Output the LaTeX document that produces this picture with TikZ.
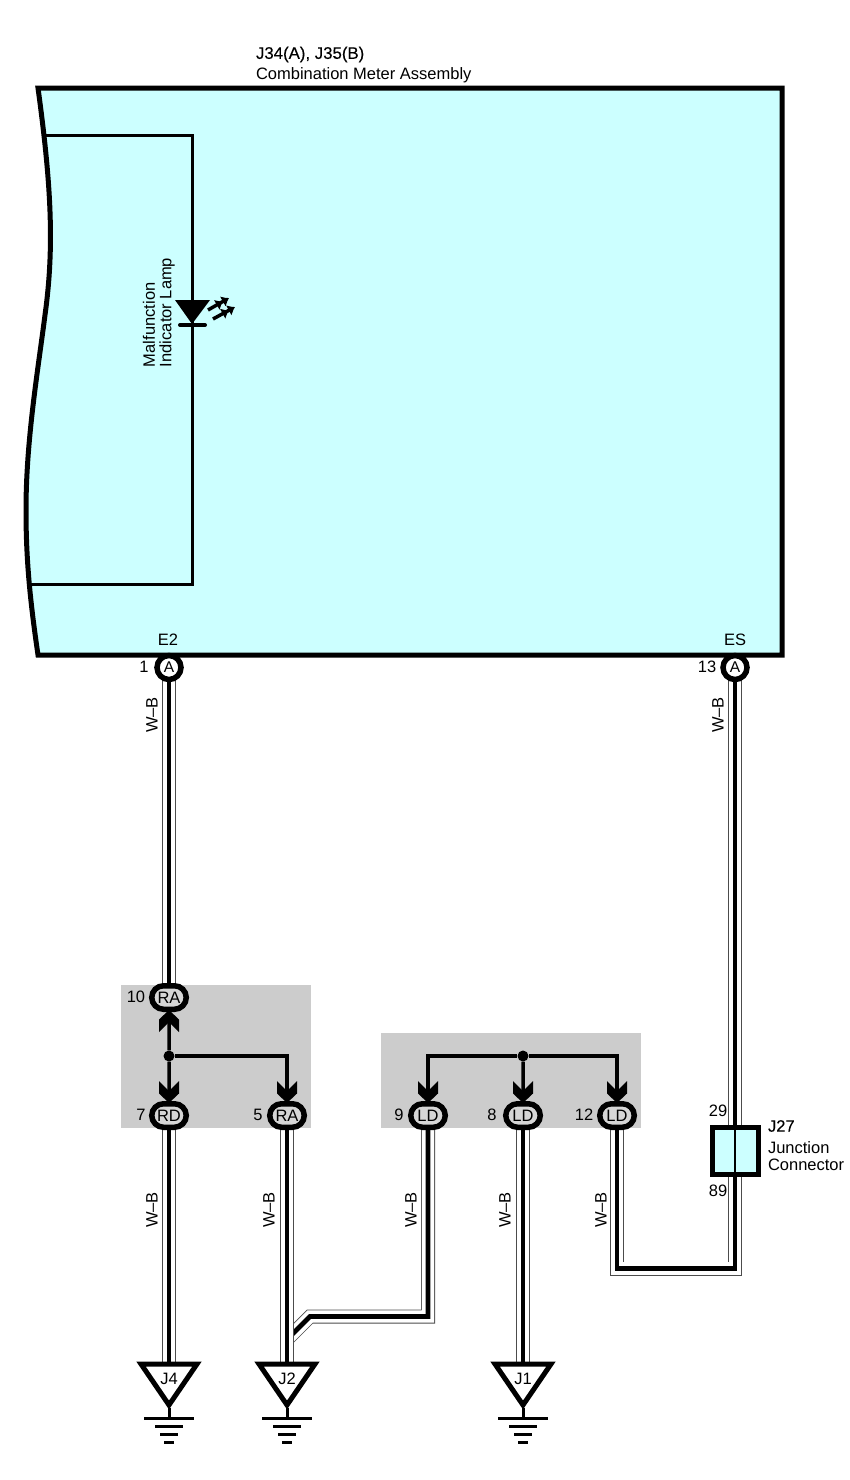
\documentclass[tikz,border=0pt]{standalone}
\usepackage{fontspec}
\setmainfont{Liberation Sans}
\newfontfamily\hdfont[FakeBold=0.25]{Liberation Sans}
\usetikzlibrary{shapes.misc,backgrounds,arrows.meta}
\definecolor{meter}{HTML}{CCFFFF}
\definecolor{panel}{HTML}{CCCCCC}
\definecolor{pillfill}{HTML}{D6D6D6}
\newcommand{\gndsym}[3]{%
  \coordinate (#1t) at (#2,1364);
  \draw[line width=5,fill=white,miter limit=10] (#2-28,1364) -- (#2+28,1364) -- (#2,1405) -- cycle;
  \node[txt] (#1) at (#2,1379) {#3};
  \coordinate (#1s) at (#2,1418);
  \draw[line width=3] (#2,1408) -- (#1s);
  \draw[line width=3] (#2-25,1418) -- (#2+25,1418);
  \draw[line width=3] (#2-14,1426) -- (#2+14,1426);
  \draw[line width=3] (#2-9,1434) -- (#2+9,1434);
  \draw[line width=3] (#2-5,1442) -- (#2+5,1442);
}
\tikzset{
  x=1pt,y=-1pt,
  txt/.style={inner sep=0,outer sep=0,font=\fontsize{16.5}{18}\selectfont},
  wb/.style={txt,rotate=90},
  pill/.style={rounded rectangle,draw,line width=5.5,fill=pillfill,minimum width=34.5,minimum height=23.5,inner sep=0,font=\fontsize{16.5}{18}\selectfont},
  pin/.style={circle,draw,line width=5.5,fill=white,minimum size=24,inner sep=0,font=\fontsize{15.5}{18}\selectfont},
  wire/.style={draw=black!70,line width=14,miter limit=10,postaction={draw=white,line width=12.4,postaction={draw=black,line width=4.7}}},
  tie/.style={line width=3.5},
  dot/.style={circle,fill=black,minimum size=11,inner sep=0},
  chev/.pic={\fill (-10,-20) -- (-10,-7.5) -- (0,2) -- (10,-7.5) -- (10,-20) -- (0,-10) -- cycle;},
}
\begin{document}
\begin{tikzpicture}
\useasboundingbox (0,0) rectangle (850,1480);
% connector nodes
\node[pin] (A1) at (169,667.5) {A};
\node[pin] (A13) at (735,667.5) {A};
\node[pill] (RA10) at (169,997.5) {RA};
\node[pill] (RD7) at (169,1115.5) {RD};
\node[pill] (RA5) at (287,1115.5) {RA};
\node[pill] (LD9) at (428,1115.5) {LD};
\node[pill] (LD8) at (523,1115.5) {LD};
\node[pill] (LD12) at (617,1115.5) {LD};
\node[dot] (d1) at (169,1056) {};
\node[dot] (d2) at (523,1056) {};
\node[draw,line width=5,fill=meter,minimum width=46,minimum height=47,inner sep=0] (J27) at (735,1150.5) {};
\draw[line width=2] (J27.north) -- (J27.south);
\gndsym{J4}{169}{J4}
\gndsym{J2}{287}{J2}
\gndsym{J1}{523}{J1}
\coordinate (c1) at (735,1268.5);
\coordinate (c2) at (617,1268.5);
\coordinate (c3) at (428,1316.5);
\coordinate (c4) at (310,1316.5);
\coordinate (c5) at (287,1339.5);
\begin{scope}[on background layer]
  \fill[panel] (121,985) rectangle (311,1128);
  \fill[panel] (381,1033) rectangle (641,1128);
  \draw[line width=5,fill=meter,line join=miter,miter limit=10] (38,655) .. controls (30,600) and (26,560) .. (26,510) .. controls (26,440) and (38,370) .. (45,315) .. controls (54,250) and (52,190) .. (38,88) -- (782,88) -- (782,655) -- cycle;
  \draw[line width=3,miter limit=10] (46,135) -- (192,135) -- (192,584) -- (31,584);
  \path[wire] (A1.center) -- (RA10.center);
  \path[wire] (RD7.center) -- (J4t);
  \path[wire] (LD9.center) -- (c3) -- (c4) -- (c5);
  \path[wire] (RA5.center) -- (J2t);
  \path[wire] (LD8.center) -- (J1t);
  \path[wire] (A13.center) -- (J27.center);
  \path[wire] (J27.center) -- (c1) -- (c2) -- (LD12.center);
\end{scope}
% ties in the gray panels
\draw[tie] (d1) -- (RA10);
\draw[tie] (d1) -- (RD7);
\draw[tie] (d1) -| (RA5);
\draw[tie] (d2) -- (LD8);
\draw[tie] (d2) -| (LD9);
\draw[tie] (d2) -| (LD12);
\pic[rotate=180] at (RA10.south) {chev};
\pic at (RD7.north) {chev};
\pic at (RA5.north) {chev};
\pic at (LD9.north) {chev};
\pic at (LD8.north) {chev};
\pic at (LD12.north) {chev};
% lamp
\fill (175,300) -- (210,300) -- (192,324) -- cycle;
\draw[line width=4,line cap=round] (180,325) -- (205,325);
\draw[line width=3.5,-{Latex[length=7,width=12]Latex[length=7,width=12]}] (208,310) -- (229,298);
\draw[line width=3.5,-{Latex[length=7,width=12]Latex[length=7,width=12]}] (213,319) -- (235,307);
% texts
\node[txt,anchor=west,font=\hdfont\fontsize{16.8}{18}\selectfont] (t1) at (256,54.5) {J34(A), J35(B)};
\node[txt,anchor=west,font=\fontsize{16.5}{18}\selectfont] (t2) at (256,75) {Combination Meter Assembly};
\node[txt,rotate=90,anchor=west] (t3) at (149,367) {Malfunction};
\node[txt,rotate=90,anchor=west] (t4) at (167,367) {Indicator Lamp};
\node[txt] (e2) at (168,639.5) {E2};
\node[txt] (es) at (735,639.5) {ES};
\node[txt] (n1) at (144,667) {1};
\node[txt] (n13) at (707,667) {13};
\node[txt] (n10) at (136,997) {10};
\node[txt] (n7) at (141,1115) {7};
\node[txt] (n5) at (258,1115) {5};
\node[txt] (n9) at (399,1115) {9};
\node[txt] (n8) at (492,1115) {8};
\node[txt] (n12) at (584,1115) {12};
\node[txt] (n29) at (718,1111) {29};
\node[txt] (n89) at (718,1191) {89};
\node[txt,anchor=west,font=\hdfont\fontsize{16.5}{18}\selectfont] (j27) at (768,1126) {J27};
\node[txt,anchor=west] (j27a) at (768,1147.5) {Junction};
\node[txt,anchor=west] (j27b) at (768,1164.5) {Connector};
\node[wb] (w1) at (152,715) {W–B};
\node[wb] (w2) at (718,715) {W–B};
\node[wb] (w3) at (152,1210) {W–B};
\node[wb] (w4) at (269,1210) {W–B};
\node[wb] (w5) at (411,1210) {W–B};
\node[wb] (w6) at (505,1210) {W–B};
\node[wb] (w7) at (601,1210) {W–B};
\end{tikzpicture}
\end{document}
